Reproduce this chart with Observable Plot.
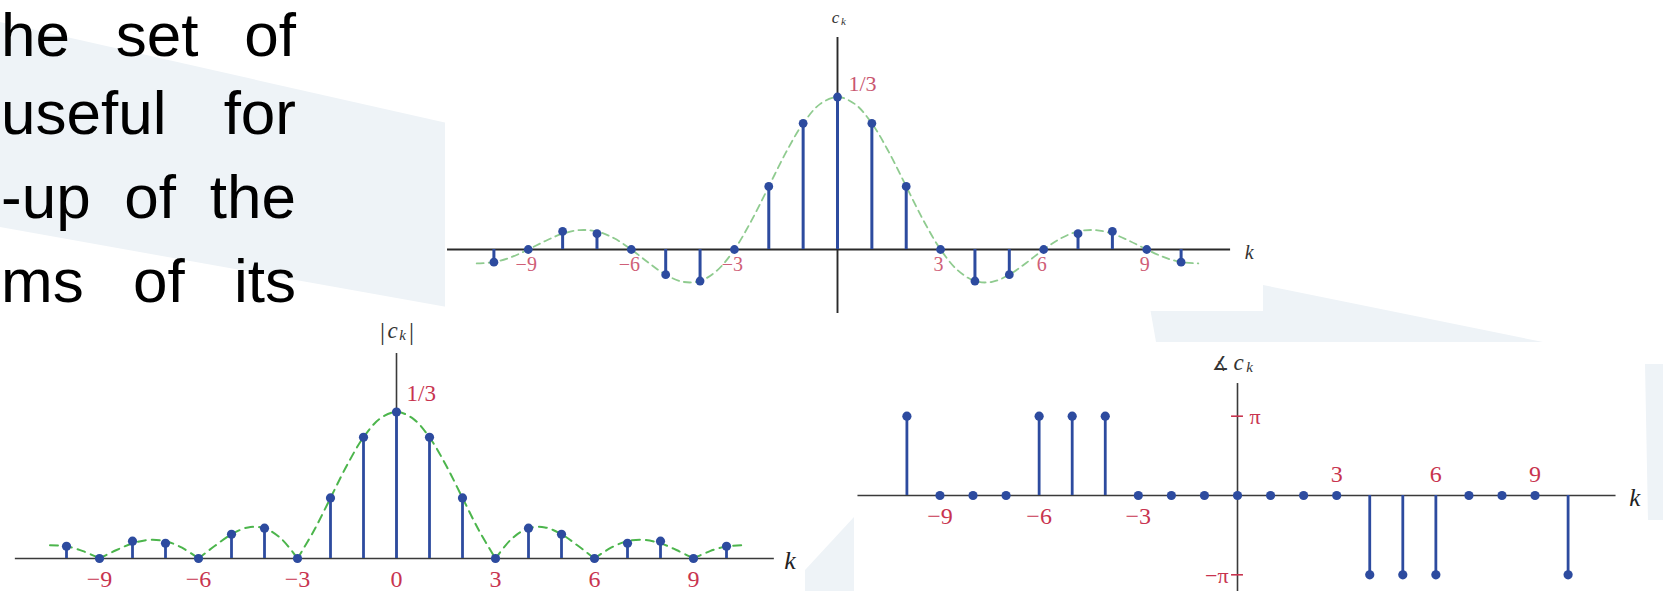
<!DOCTYPE html>
<html>
<head>
<meta charset="utf-8">
<script src="https://cdn.jsdelivr.net/npm/d3@7"></script>
<script src="https://cdn.jsdelivr.net/npm/@observablehq/plot@0.6"></script>
<style>
html,body{margin:0;padding:0;background:#fff;}
#page{position:relative;width:1663px;height:591px;overflow:hidden;background:#fff;}
.shade{position:absolute;left:0;top:0;width:1663px;height:591px;background:#eef3f7;}
.box{position:absolute;background:#fff;overflow:visible;}
.line{position:absolute;left:1px;width:295px;display:flex;justify-content:space-between;font-family:"Liberation Sans",Arial,sans-serif;font-size:62px;line-height:56px;color:#000;white-space:nowrap;}
</style>
</head>
<body>
<div id="page">
  <div class="shade" style="clip-path:polygon(0px 22px,447px 123px,447px 307px,0px 227px)"></div>
  <div class="shade" style="clip-path:polygon(1146px 285px,1263px 285px,1543px 342px,1156px 342px)"></div>
  <div class="shade" style="clip-path:polygon(1645px 364px,1663px 364px,1663px 520px,1648px 520px)"></div>
  <div class="shade" style="clip-path:polygon(805px 570px,854px 517px,854px 591px,805px 591px)"></div>
  <div id="topChart" class="box" style="left:445px;top:0px;width:818px;height:311px"></div>
  <div id="magChart" class="box" style="left:0px;top:307px;width:805px;height:284px"></div>
  <div id="phaseChart" class="box" style="left:854px;top:342px;width:791px;height:249px"></div>
  <div class="line" style="top:7px"><span>he</span><span>set</span><span>of</span></div>
  <div class="line" style="top:85px"><span>useful</span><span>for</span></div>
  <div class="line" style="top:169px"><span>-up</span><span>of</span><span>the</span></div>
  <div class="line" style="top:253px"><span>ms</span><span>of</span><span>its</span></div>
</div>
<script>
// ---- data ----
const kValues = [-10,-9,-8,-7,-6,-5,-4,-3,-2,-1,0,1,2,3,4,5,6,7,8,9,10];
const ckValues = [-0.0276,0,0.0394,0.0345,0,-0.0551,-0.0689,0,0.1378,0.2757,0.3333,0.2757,0.1378,0,-0.0689,-0.0551,0,0.0345,0.0394,0,-0.0276];
const phaseOverPi = [1,0,0,0,1,1,1,0,0,0,0,0,0,0,-1,-1,-1,0,0,0,-1];
const envelopeK = [-10.5,-10,-9.5,-9,-8.5,-8,-7.5,-7,-6.5,-6,-5.5,-5,-4.5,-4,-3.5,-3,-2.5,-2,-1.5,-1,-0.5,0,0.5,1,1.5,2,2.5,3,3.5,4,4.5,5,5.5,6,6.5,7,7.5,8,8.5,9,9.5,10,10.5];
const envelopeC = [-0.0303,-0.0276,-0.0168,0,0.0187,0.0345,0.0424,0.0394,0.0245,0,-0.0289,-0.0551,-0.0707,-0.0689,-0.0455,0,0.0637,0.1378,0.2122,0.2757,0.3183,0.3333,0.3183,0.2757,0.2122,0.1378,0.0637,0,-0.0455,-0.0689,-0.0707,-0.0551,-0.0289,0,0.0245,0.0394,0.0424,0.0345,0.0187,0,-0.0168,-0.0276,-0.0303];
const ticksTop = [-9,-6,-3,3,6,9];
const ticksMag = [-9,-6,-3,0,3,6,9];
const ticksPhaseBelow = [-9,-6,-3];
const ticksPhaseAbove = [3,6,9];
const peakLabel = "1/3";

// ---- tables built from the arrays ----
const coef = kValues.map((k, i) => ({k, c: ckValues[i], m: Math.abs(ckValues[i]), p: phaseOverPi[i]}));
const env = envelopeK.map((k, i) => ({k, v: envelopeC[i]}));
const magEnv = [];
{ let lobe = 0;
  envelopeK.forEach((k, i) => {
    const v = Math.abs(envelopeC[i]);
    magEnv.push({k, v, lobe});
    if (v === 0) { lobe++; magEnv.push({k, v, lobe}); }
  });
}
const fmt = d => d < 0 ? "\u2212" + Math.abs(d) : String(d);

const BLUE = "#2d4b9f";
const RED = "#c8344f";
const SERIF = "Liberation Serif, DejaVu Serif, serif";
const lbl = (s, dx, dy, size, extra = {}) =>
  Plot.text([s], {x: 0, frameAnchor: "top", lineAnchor: "middle", dx, dy, text: d => d, fontSize: size, fontFamily: SERIF, fill: "#333", ...extra});

// ---- top chart: c_k ----
const topPlot = Plot.plot({
  width: 818, height: 311, margin: 0,
  style: {background: "white", overflow: "visible"},
  x: {axis: null, domain: [-10, 10], range: [48.4, 735.6]},
  y: {axis: null, domain: [0, 1/3], range: [249, 96.5]},
  marks: [
    Plot.ruleY([0], {x1: -11.35, x2: 11.44, stroke: "#2a2a2a", strokeWidth: 1.9}),
    Plot.ruleX([0], {y1: -0.14, y2: 0.4634, stroke: "#2a2a2a", strokeWidth: 1.9}),
    Plot.line(env, {x: "k", y: "v", curve: "catmull-rom", stroke: "#8fcb8f", strokeWidth: 1.8, strokeDasharray: "7,5"}),
    Plot.ruleX(coef, {x: "k", y1: 0, y2: "c", stroke: BLUE, strokeWidth: 3}),
    Plot.dot(coef, {x: "k", y: "c", r: 4.4, fill: BLUE}),
    Plot.text(ticksTop, {x: d => d, y: 0, dy: 15, text: fmt, fill: "#cf5f78", fontSize: 20, fontFamily: SERIF, dx: -2}),
    Plot.text([peakLabel], {x: 0, y: 1/3, dx: 11, dy: -13, text: d => d, textAnchor: "start", fill: "#c9566f", fontSize: 22, fontFamily: SERIF}),
    lbl("c", -2, 17, 17, {fontStyle: "italic"}),
    lbl("k", 6, 21, 11, {fontStyle: "italic"}),
    Plot.text(["k"], {x: 11.85, y: 0, dy: 3, text: d => d, textAnchor: "start", fontStyle: "italic", fontSize: 20, fontFamily: SERIF, fill: "#333"})
  ]
});
document.getElementById("topChart").append(topPlot);

// ---- bottom-left chart: |c_k| ----
const magPlot = Plot.plot({
  width: 805, height: 284, margin: 0,
  style: {background: "white", overflow: "visible"},
  x: {axis: null, domain: [-10, 10], range: [66, 726]},
  y: {axis: null, domain: [0, 1/3], range: [251, 104.5]},
  marks: [
    Plot.ruleY([0], {x1: -11.55, x2: 11.45, stroke: "#3a3a3a", strokeWidth: 1.6}),
    Plot.ruleX([0], {y1: 0, y2: 0.4664, stroke: "#3a3a3a", strokeWidth: 1.6}),
    Plot.line(magEnv, {x: "k", y: "v", z: "lobe", curve: "catmull-rom", stroke: "#4cb54c", strokeWidth: 2, strokeDasharray: "8,6"}),
    Plot.ruleX(coef, {x: "k", y1: 0, y2: "m", stroke: BLUE, strokeWidth: 2.8}),
    Plot.dot(coef, {x: "k", y: "m", r: 4.6, fill: BLUE}),
    Plot.text(ticksMag, {x: d => d, y: 0, dy: 21, text: fmt, fill: RED, fontSize: 24, fontFamily: SERIF}),
    Plot.text([peakLabel], {x: 0, y: 1/3, dx: 10, dy: -18, text: d => d, textAnchor: "start", fill: RED, fontSize: 23, fontFamily: SERIF}),
    lbl("|", -14, 24, 25),
    lbl("c", -4, 23, 23, {fontStyle: "italic"}),
    lbl("k", 6, 28, 15, {fontStyle: "italic"}),
    lbl("|", 15, 24, 25),
    Plot.text(["k"], {x: 11.75, y: 0, dy: 2, text: d => d, textAnchor: "start", fontStyle: "italic", fontSize: 26, fontFamily: SERIF, fill: "#222"})
  ]
});
document.getElementById("magChart").append(magPlot);

// ---- bottom-right chart: phase of c_k ----
const phasePlot = Plot.plot({
  width: 791, height: 249, margin: 0,
  style: {background: "white", overflow: "visible"},
  x: {axis: null, domain: [-10, 10], range: [52.4, 713.6]},
  y: {axis: null, domain: [-1, 1], range: [232.3, 73.7]},
  marks: [
    Plot.ruleY([0], {x1: -11.48, x2: 11.45, stroke: "#3a3a3a", strokeWidth: 1.6}),
    Plot.ruleX([0], {y1: -1.25, y2: 1.412, stroke: "#3a3a3a", strokeWidth: 1.6}),
    Plot.ruleY([1, -1], {x1: -0.18, x2: 0.18, stroke: RED, strokeWidth: 1.6}),
    Plot.ruleX(coef.filter(d => d.p !== 0), {x: "k", y1: 0, y2: "p", stroke: BLUE, strokeWidth: 2.8}),
    Plot.dot(coef, {x: "k", y: "p", r: 4.6, fill: BLUE}),
    Plot.text(ticksPhaseBelow, {x: d => d, y: 0, dy: 21, text: fmt, fill: RED, fontSize: 24, fontFamily: SERIF}),
    Plot.text(ticksPhaseAbove, {x: d => d, y: 0, dy: -21, text: fmt, fill: RED, fontSize: 24, fontFamily: SERIF}),
    Plot.text([1], {x: 0, y: d => d, dx: 12, dy: 1, text: () => "\u03c0", textAnchor: "start", fill: RED, fontSize: 22, fontFamily: SERIF}),
    Plot.text([-1], {x: 0, y: d => d, dx: -9, dy: 1, text: () => "\u2212\u03c0", textAnchor: "end", fill: RED, fontSize: 22, fontFamily: SERIF}),
    lbl("\u2221", -17, 21, 19, {fontFamily: "DejaVu Serif, serif"}),
    lbl("c", 1, 20, 23, {fontStyle: "italic"}),
    lbl("k", 12, 25, 15, {fontStyle: "italic"}),
    Plot.text(["k"], {x: 11.85, y: 0, dy: 2, text: d => d, textAnchor: "start", fontStyle: "italic", fontSize: 25, fontFamily: SERIF, fill: "#222"})
  ]
});
document.getElementById("phaseChart").append(phasePlot);
</script>
</body>
</html>
